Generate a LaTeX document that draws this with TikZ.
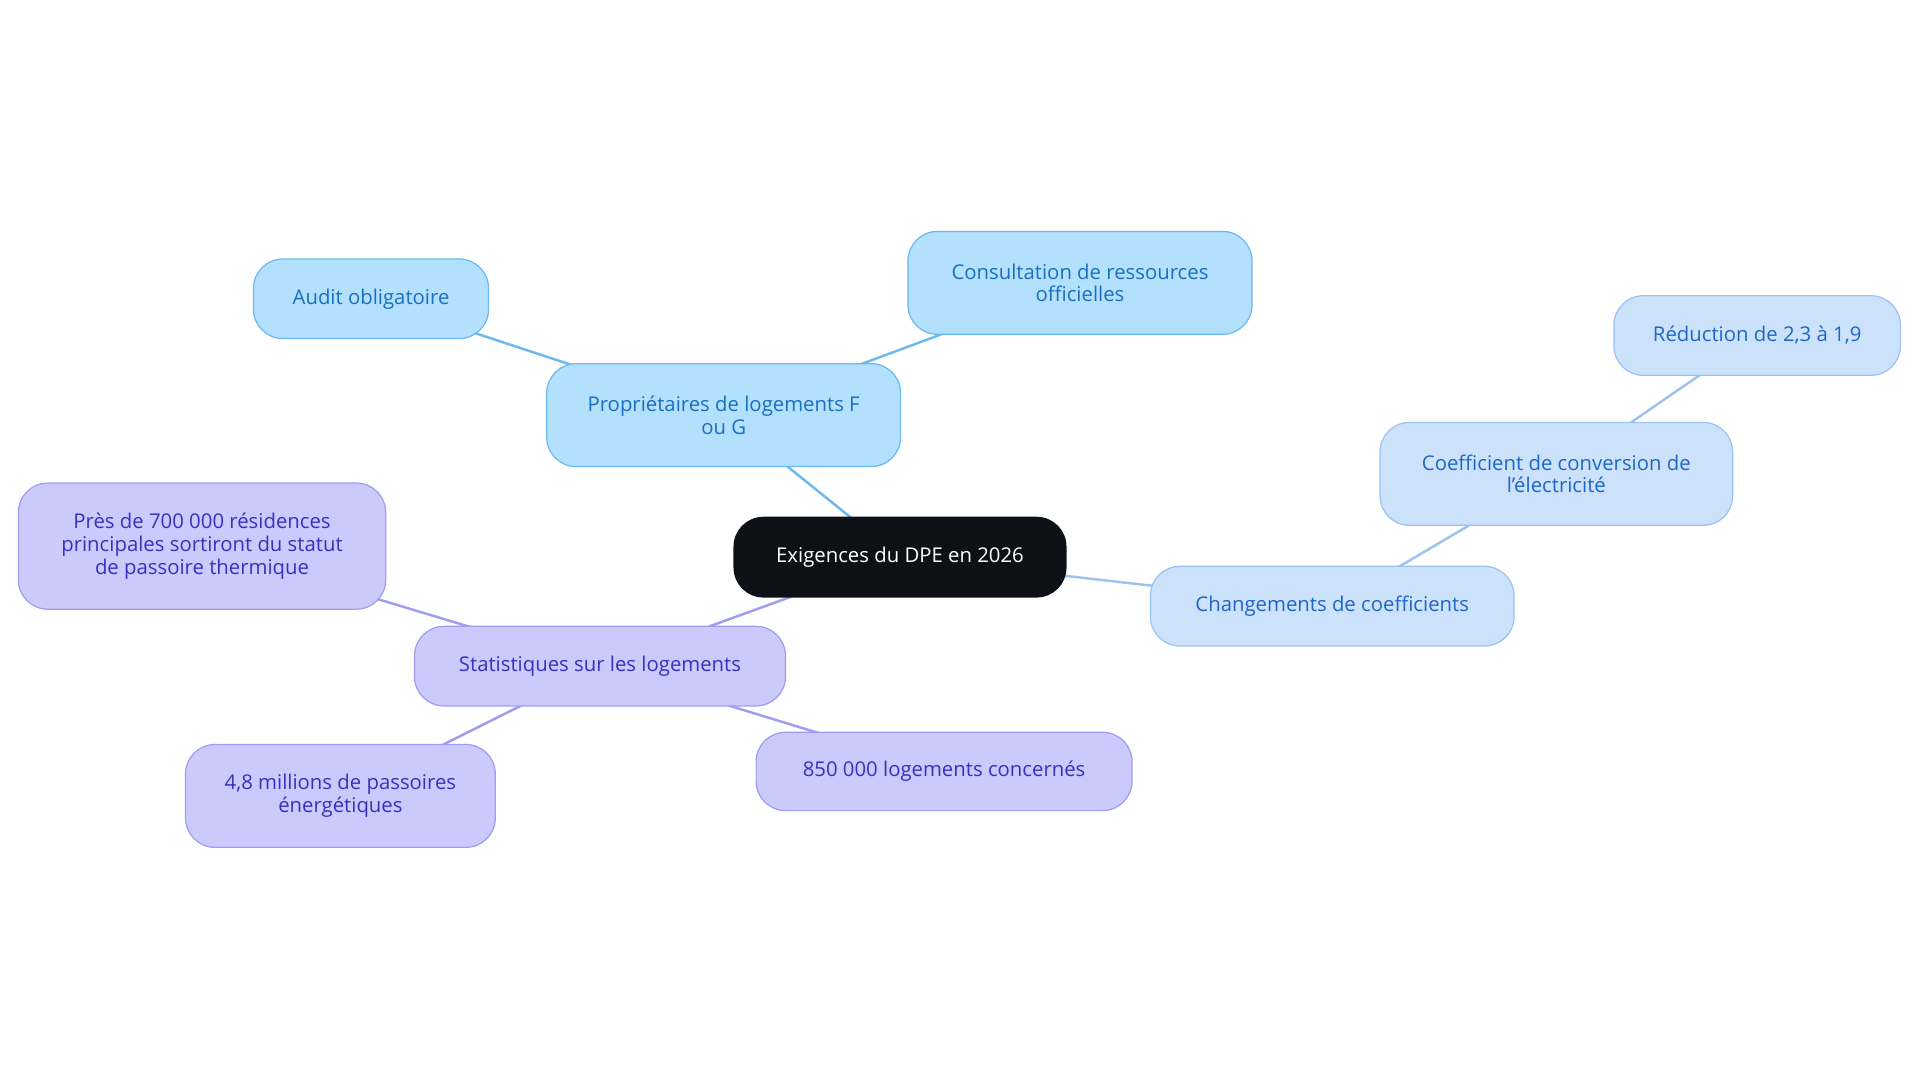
\documentclass[tikz,border=0pt]{standalone}
\usepackage{fontspec}
\setmainfont{Open Sans}
\usetikzlibrary{backgrounds}
\definecolor{cfillA}{HTML}{B3E0FD}\definecolor{cdrawA}{HTML}{6CB8F0}\definecolor{ctextA}{HTML}{1A6FC0}
\definecolor{cfillB}{HTML}{CCE2FA}\definecolor{cdrawB}{HTML}{9CC2F0}\definecolor{ctextB}{HTML}{1F66C8}
\definecolor{cfillC}{HTML}{CACAFD}\definecolor{cdrawC}{HTML}{A09CF0}\definecolor{ctextC}{HTML}{3B2FC0}
\definecolor{croot}{HTML}{0D1117}
\tikzset{
 box/.style={rounded corners=12pt,align=center,inner sep=2pt,font=\fontsize{8.3}{9.3}\selectfont,line width=0.5pt},
 ba/.style={box,fill=cfillA,draw=cdrawA,text=ctextA},
 bb/.style={box,fill=cfillB,draw=cdrawB,text=ctextB},
 bc/.style={box,fill=cfillC,draw=cdrawC,text=ctextC},
 la/.style={draw=cdrawA,line width=1pt},
 lb/.style={draw=cdrawB,line width=1pt},
 lc/.style={draw=cdrawC,line width=1pt},
}
\begin{document}
\begin{tikzpicture}[x=0.5pt,y=-0.5pt]
\useasboundingbox (0,0) rectangle (1568,884);
\node[box,fill=croot,draw=croot,text=white,minimum width=135.5pt,minimum height=32.5pt] (root) at (735,455) {Exigences du DPE en 2026};
\node[ba,minimum width=144.5pt,minimum height=42pt] (prop) at (591,339) {Propriétaires de logements F\\ou G};
\node[ba,minimum width=96pt,minimum height=32.5pt] (audit) at (303,244) {Audit obligatoire};
\node[ba,minimum width=140.5pt,minimum height=42pt] (cons) at (882,231) {Consultation de ressources\\officielles};
\node[bb,minimum width=148.5pt,minimum height=32.5pt] (chg) at (1088,495) {Changements de coefficients};
\node[bb,minimum width=144pt,minimum height=42pt] (coef) at (1271,387) {Coefficient de conversion de\\l'électricité};
\node[bb,minimum width=117pt,minimum height=32.5pt] (red) at (1435,274) {Réduction de 2,3 à 1,9};
\node[bc,minimum width=151.5pt,minimum height=32.5pt] (stat) at (490,544) {Statistiques sur les logements};
\node[bc,minimum width=150pt,minimum height=51.5pt] (pres) at (165,446) {Près de 700 000 résidences\\principales sortiront du statut\\de passoire thermique};
\node[bc,minimum width=126.5pt,minimum height=42pt] (mil) at (278,650) {4,8 millions de passoires\\énergétiques};
\node[bc,minimum width=153.5pt,minimum height=32pt] (huit) at (771,630) {850 000 logements concernés};
\begin{scope}[on background layer]
\draw[la] (root.center) -- (prop.center);
\draw[la] (prop.center) -- (audit.center);
\draw[la] (prop.center) -- (cons.center);
\draw[lb] (root.center) -- (chg.center);
\draw[lb] (chg.center) -- (coef.center);
\draw[lb] (coef.center) -- (red.center);
\draw[lc] (root.center) -- (stat.center);
\draw[lc] (stat.center) -- (pres.center);
\draw[lc] (stat.center) -- (mil.center);
\draw[lc] (stat.center) -- (huit.center);
\end{scope}
\end{tikzpicture}
\end{document}
